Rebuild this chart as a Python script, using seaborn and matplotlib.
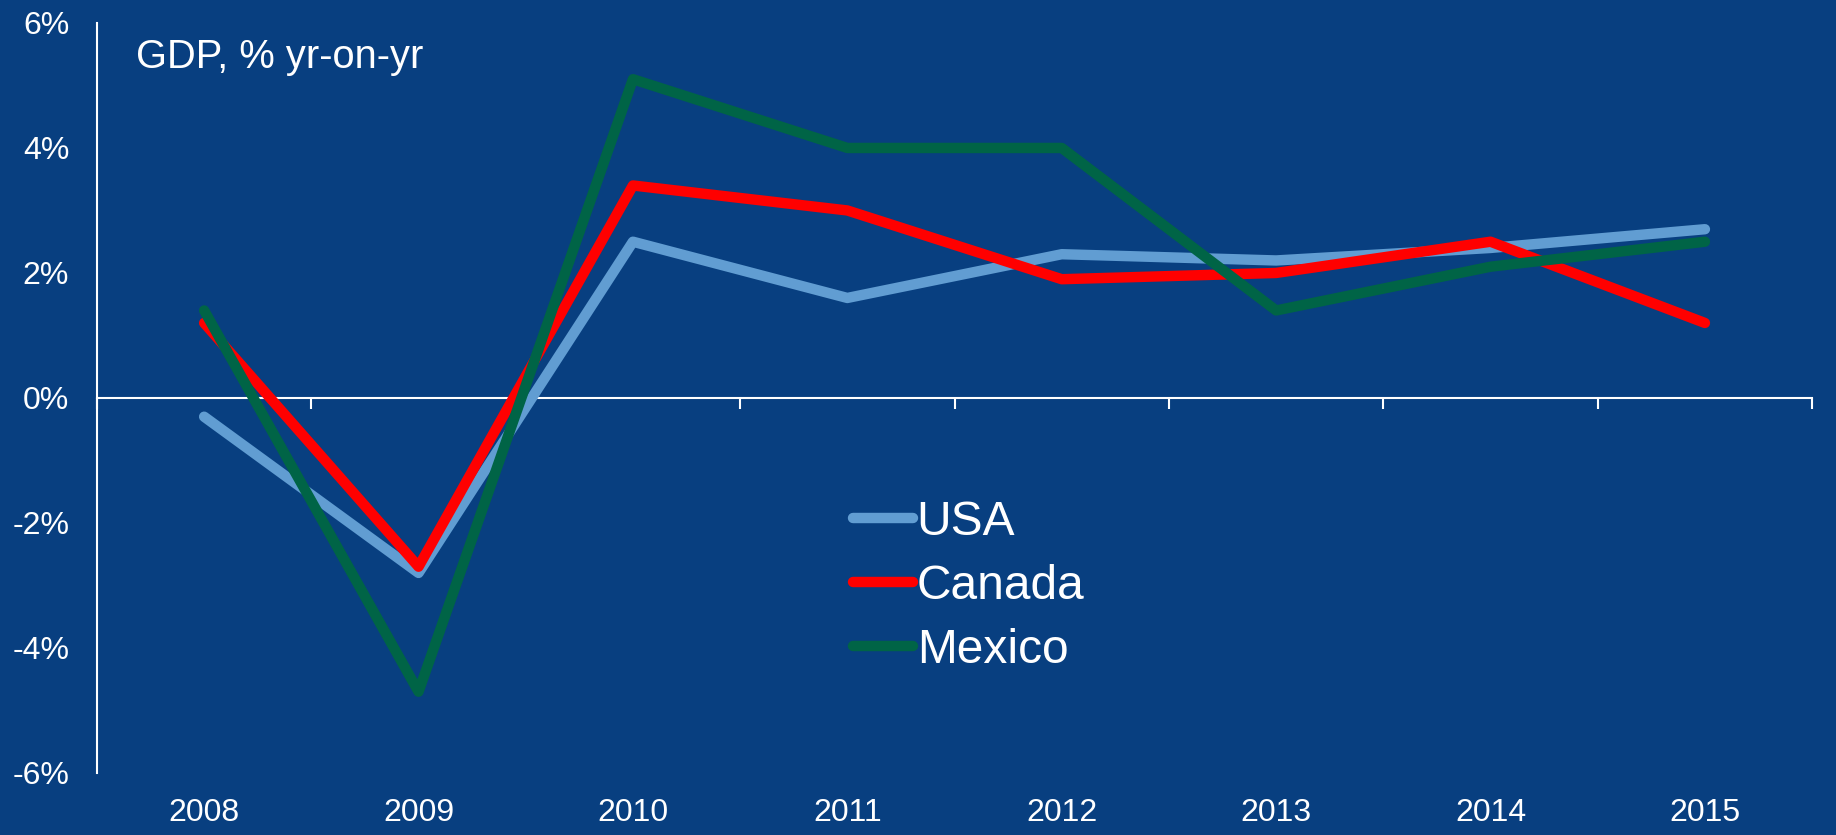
import pandas as pd
import numpy as np
import matplotlib
matplotlib.use('Agg')
import matplotlib.pyplot as plt
import seaborn as sns

# GDP growth, % yr-on-yr
years = [2008, 2009, 2010, 2011, 2012, 2013, 2014, 2015]
usa = [-0.3, -2.8, 2.5, 1.6, 2.3, 2.2, 2.4, 2.7]
canada = [1.2, -2.7, 3.4, 3.0, 1.9, 2.0, 2.5, 1.2]
mexico = [1.4, -4.7, 5.1, 4.0, 4.0, 1.4, 2.1, 2.5]

ytick_vals = [-6, -4, -2, 0, 2, 4, 6]
ytick_labels = ['-6%', '-4%', '-2%', '0%', '2%', '4%', '6%']

bg = '#083f80'
colors = {'USA': '#619dd2', 'Canada': '#ff0000', 'Mexico': '#006446'}

df = pd.DataFrame({'year': years, 'USA': usa, 'Canada': canada, 'Mexico': mexico})

sns.set_style('white')
plt.rcParams['font.family'] = ['Liberation Sans', 'DejaVu Sans']

fig = plt.figure(figsize=(18.36, 8.35), dpi=100, facecolor=bg)
ax = fig.add_axes([0.0528, 0.0743, 0.9342, 0.8982])
ax.set_facecolor(bg)

for name in ['USA', 'Canada', 'Mexico']:
    sns.lineplot(x='year', y=name, data=df, label=name, color=colors[name],
                 linewidth=7.5, solid_capstyle='round', ax=ax)

ax.set_xlim(2007.5, 2015.5)
ax.set_ylim(-6, 6)
ax.set_xlabel('')
ax.set_ylabel('')

# y axis
ax.set_yticks(ytick_vals)
ax.set_yticklabels(ytick_labels)
ax.tick_params(axis='y', length=0, pad=20, labelsize=23, labelcolor='white')

# year labels along the bottom, no spine there
ax.set_xticks(years)
ax.set_xticklabels([str(y) for y in years])
ax.tick_params(axis='x', length=0, pad=18, labelsize=23, labelcolor='white')

for s in ['top', 'right', 'bottom']:
    ax.spines[s].set_visible(False)
ax.spines['left'].set_color('white')
ax.spines['left'].set_linewidth(1.5)

# zero line with category boundary ticks
zero_ax = ax.secondary_xaxis(0.5)
zero_ax.set_alignment('bottom')
zero_ax.set_xticks(np.arange(2007.5, 2016, 1))
zero_ax.set_xticklabels([])
zero_ax.tick_params(axis='x', direction='out', length=8, width=1.5, color='white')
zero_ax.spines['bottom'].set_color('white')
zero_ax.spines['bottom'].set_linewidth(1.5)

ax.text(0.0227, 0.94, 'GDP, % yr-on-yr', transform=ax.transAxes, color='white',
        fontsize=28.7, va='baseline', ha='left')

leg = ax.legend(loc='center left', bbox_to_anchor=(0.4646, 0.298),
                bbox_transform=fig.transFigure, frameon=False, fontsize=34.5,
                handlelength=1.25, handletextpad=0.08, labelspacing=0.4,
                borderpad=0, borderaxespad=0)
for t in leg.get_texts():
    t.set_color('white')
for h in leg.legend_handles:
    h.set_linewidth(7.5)
    h.set_solid_capstyle('round')

fig.savefig('out.png', dpi=100, facecolor=bg)
